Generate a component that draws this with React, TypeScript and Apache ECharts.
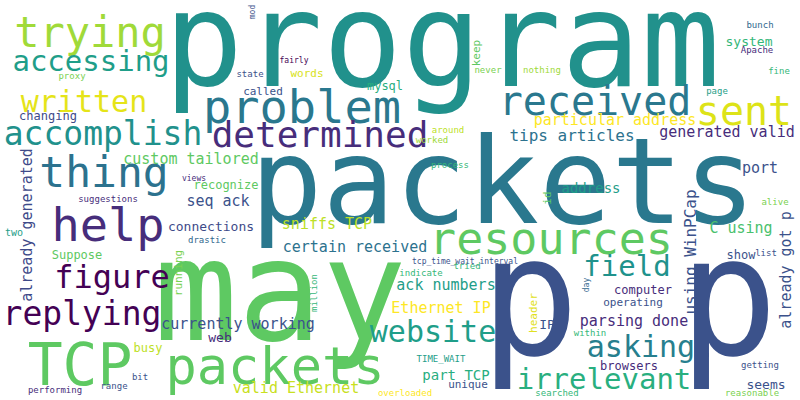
import React, { useEffect, useRef } from 'react'
import * as echarts from 'echarts'

// word cloud: each word has its center (px in an 800x400 box), font size, colour and rotation
const words = [
  'program', 'packets', 'p p', 'may', 'trying', 'accessing', 'written', 'changing', 'accomplish', 'problem',
  'determined', 'thing', 'custom tailored', 'recognize', 'views', 'words', 'fairly', 'state', 'proxy', 'called',
  'mysql', 'mod', 'received', 'sent', 'particular address', 'generated valid', 'tips articles', 'system', 'keep', 'never',
  'nothing', 'bunch', 'Apache', 'fine', 'page', 'around', 'worked', 'process', 'port', 'address',
  'id', 'alive', 'help', 'seq ack', 'suggestions', 'connections', 'sniffs TCP', 'certain received', 'drastic', 'two',
  'already generated', 'Suppose', 'figure', 'running', 'replying', 'currently working', 'web', 'busy', 'million', 'TCP',
  'packets', 'bit', 'range', 'performing', 'valid Ethernet', 'overloaded', 'resources', 'tcp_time_wait_interval', 'tried', 'indicate',
  'ack numbers', 'Ethernet IP', 'website', 'field', 'asking', 'irrelevant', 'parsing done', 'computer', 'operating', 'using WinPCap',
  'C using', 'show', 'list', 'already got p', 'day', 'header', 'IP', 'within', 'TIME_WAIT', 'part TCP',
  'unique', 'browsers', 'searched', 'getting', 'seems', 'reasonable',
]
const xs = [
  442, 503, 629, 280, 90, 91, 84, 48, 103, 302,
  320, 104, 191, 226, 194, 307, 294, 250, 72, 263,
  385, 252, 595, 744, 615, 727, 572, 749, 476, 488,
  542, 760, 757, 779, 717, 448, 432, 450, 760, 591,
  547, 775, 108, 218, 108, 211, 327, 355, 207, 14,
  27, 77, 112, 178, 82, 238, 220, 148, 314, 80,
  275, 140, 114, 55, 296, 405, 551, 465, 467, 421,
  446, 441, 433, 627, 641, 604, 634, 643, 633, 690,
  741, 741, 766, 786, 586, 533, 547, 590, 441, 456,
  468, 629, 557, 760, 766, 752,
]
const ys = [
  40, 181, 297, 291, 32, 61, 101, 116, 133, 106,
  134, 172, 159, 185, 178, 73, 60, 74, 76, 91,
  86, 12, 101, 111, 120, 132, 135, 41, 53, 70,
  70, 25, 50, 71, 91, 130, 140, 165, 168, 188,
  198, 202, 224, 201, 199, 226, 224, 247, 240, 232,
  225, 255, 277, 273, 313, 324, 337, 348, 293, 365,
  366, 377, 386, 390, 388, 393, 238, 261, 266, 273,
  285, 308, 331, 266, 346, 379, 321, 290, 302, 252,
  228, 255, 253, 270, 285, 313, 324, 333, 359, 375,
  384, 366, 393, 365, 384, 393,
]
const sizes = [
  132, 120, 165, 140, 42, 29, 30, 12, 33, 47,
  36, 43, 15, 12, 8, 11, 8, 9, 9, 11,
  12, 8, 40, 40, 15, 15, 16, 13, 11, 9,
  9, 9, 9, 9, 9, 9, 9, 9, 15, 14,
  11, 9, 47, 15, 9, 13, 15, 15, 9, 10,
  15, 12, 32, 11, 33, 15, 13, 12, 9, 58,
  52, 9, 9, 9, 15, 9, 45, 8, 9, 9,
  15, 15, 30, 29, 30, 29, 15, 12, 11, 16,
  15, 12, 9, 15, 8, 11, 13, 9, 9, 14,
  11, 12, 9, 9, 13, 9,
]
const colors = [
  '#21918c', '#2a788e', '#3b528b', '#5ec962', '#a0da39', '#1f9e89', '#e5e419', '#3e4a89', '#21918c', '#2a788e',
  '#472d7b', '#2c728e', '#5ec962', '#5ec962', '#472d7b', '#d8e219', '#440154', '#3b528b', '#7ad151', '#3b528b',
  '#28ae80', '#3b528b', '#2a788e', '#dde318', '#fde725', '#472d7b', '#2c728e', '#35b779', '#5ec962', '#7ad151',
  '#a0da39', '#31688e', '#472d7b', '#35b779', '#1f9e89', '#bddf26', '#a0da39', '#35b779', '#3b528b', '#1f9e89',
  '#5ec962', '#7ad151', '#472d7b', '#3b528b', '#472d7b', '#3e4a89', '#bddf26', '#2c728e', '#31688e', '#1f9e89',
  '#3e4a89', '#5ec962', '#440154', '#7ad151', '#440154', '#3b528b', '#472d7b', '#bddf26', '#35b779', '#5ec962',
  '#5ec962', '#3b528b', '#3b528b', '#472d7b', '#c8e020', '#fde725', '#5ec962', '#3b528b', '#35b779', '#35b779',
  '#1f9e89', '#fde725', '#1f9e89', '#20928c', '#277f8e', '#29af7f', '#472d7b', '#472d7b', '#3b528b', '#3b528b',
  '#4ac16d', '#3b528b', '#3b528b', '#3b528b', '#31688e', '#e0e020', '#3b528b', '#35b779', '#1f9e89', '#28ae80',
  '#3b528b', '#472d7b', '#35b779', '#3b528b', '#3b528b', '#7ad151',
]
// words drawn vertically (reading upwards)
const vertical = ['mod', 'keep', 'id', 'already generated', 'running', 'million', 'using WinPCap', 'already got p', 'day', 'header']

const App = () => {
  const chartRef = useRef(null)

  useEffect(() => {
    const chart = echarts.init(chartRef.current, null, { renderer: 'svg' })

    const data = words.map((w, i) => ({
      value: [xs[i], ys[i]],
      label: {
        show: true,
        formatter: w,
        position: 'inside',
        fontSize: sizes[i],
        color: colors[i],
        rotate: vertical.includes(w) ? 90 : 0,
      },
    }))

    chart.setOption({
      animation: false,
      backgroundColor: '#ffffff',
      grid: { left: 0, right: 0, top: 0, bottom: 0 },
      xAxis: { type: 'value', min: 0, max: 800, show: false },
      yAxis: { type: 'value', min: 0, max: 400, inverse: true, show: false },
      series: [
        {
          type: 'scatter',
          symbolSize: 0,
          silent: true,
          itemStyle: { opacity: 1 },
          label: { fontFamily: 'DejaVu Sans Mono', align: 'center', verticalAlign: 'middle' },
          data,
        },
      ],
    })

    return () => {
      chart.dispose()
    }
  }, [])

  return (
    <div
      ref={chartRef}
      style={{ position: 'absolute', left: 0, top: 0, width: '800px', height: '400px' }}
    />
  )
}

export default App
